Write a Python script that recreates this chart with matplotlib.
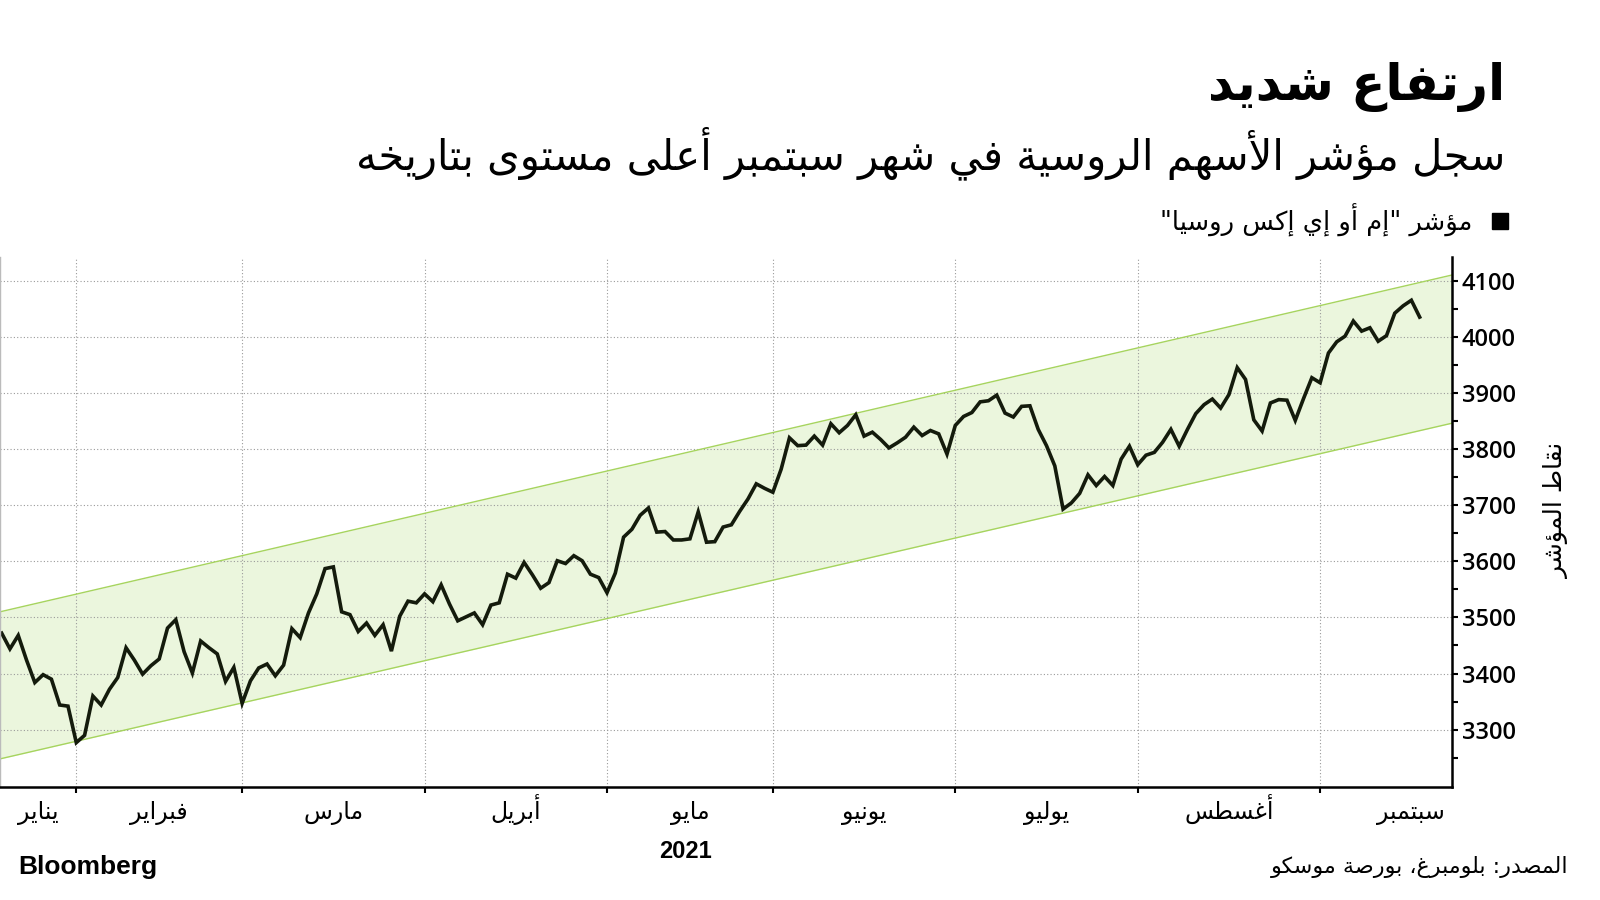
import matplotlib
matplotlib.use("Agg")
import matplotlib.pyplot as plt
from matplotlib.patches import Rectangle
import numpy as np

# MOEX Russia index, one value per trading day (mid Jan -> mid Sep 2021)
index_values = [
    3472, 3444, 3468, 3424, 3384, 3398, 3390, 3344, 3342,
    3277, 3290, 3360, 3344, 3372, 3393, 3446, 3424, 3399, 3414,
    3426, 3481, 3496, 3439, 3401, 3458, 3446, 3435, 3386, 3411,
    3347, 3387, 3410, 3417, 3396, 3415, 3480, 3464, 3508, 3542,
    3587, 3590, 3510, 3505, 3475, 3490, 3468, 3487, 3440, 3502,
    3529, 3526,
    3542, 3528, 3558, 3524, 3494, 3501, 3508, 3487, 3522, 3526,
    3577, 3570, 3598, 3576, 3552, 3562, 3601, 3596, 3610, 3601,
    3577, 3571,
    3544, 3579, 3643, 3657, 3682, 3695, 3652, 3653, 3638, 3638,
    3640, 3688, 3634, 3635, 3661, 3665, 3689, 3711, 3738, 3730,
    3723, 3764, 3820, 3806, 3807, 3823, 3807, 3845, 3829, 3842,
    3861, 3823, 3830, 3817, 3802, 3811, 3821, 3839, 3824, 3833,
    3827, 3791,
    3842, 3858, 3865, 3884, 3886, 3896, 3864, 3857, 3876, 3877,
    3835, 3806, 3770, 3693, 3704, 3721, 3754, 3735, 3751, 3735,
    3782, 3805,
    3772, 3789, 3794, 3812, 3835, 3805, 3835, 3863, 3879, 3889,
    3873, 3897, 3945, 3924, 3852, 3832, 3882, 3888, 3887, 3851,
    3890, 3927,
    3918, 3971, 3991, 4001, 4028, 4010, 4016, 3992, 4002, 4042,
    4055, 4065, 4035,
]

# trading-day index where each month starts (Feb .. Sep)
month_starts = [9, 29, 51, 73, 93, 115, 137, 159]
month_names = ["يناير", "فبراير", "مارس", "أبريل", "مايو",
               "يونيو", "يوليو", "أغسطس", "سبتمبر"]
sep_end = 181

# trend channel, value at left and right edge of the plot
channel_upper = [3510, 4110]
channel_lower = [3248, 3846]

y_ticks = [3300, 3400, 3500, 3600, 3700, 3800, 3900, 4000, 4100]

title = "ارتفاع شديد"
subtitle = "سجل مؤشر الأسهم الروسية في شهر سبتمبر أعلى مستوى بتاريخه"
legend_label = 'مؤشر "إم أو إي إكس روسيا"'
y_label = "نقاط المؤشر"
source = "المصدر: بلومبرغ، بورصة موسكو"

# matplotlib does not shape Arabic: choose the joined glyph forms by hand
# (first presentation form, number of forms); 4 = joins both sides
AR_FORMS = {
    'ء': (0xFE80, 1), 'آ': (0xFE81, 2), 'أ': (0xFE83, 2), 'ؤ': (0xFE85, 2),
    'إ': (0xFE87, 2), 'ئ': (0xFE89, 4), 'ا': (0xFE8D, 2), 'ب': (0xFE8F, 4),
    'ة': (0xFE93, 2), 'ت': (0xFE95, 4), 'ث': (0xFE99, 4), 'ج': (0xFE9D, 4),
    'ح': (0xFEA1, 4), 'خ': (0xFEA5, 4), 'د': (0xFEA9, 2), 'ذ': (0xFEAB, 2),
    'ر': (0xFEAD, 2), 'ز': (0xFEAF, 2), 'س': (0xFEB1, 4), 'ش': (0xFEB5, 4),
    'ص': (0xFEB9, 4), 'ض': (0xFEBD, 4), 'ط': (0xFEC1, 4), 'ظ': (0xFEC5, 4),
    'ع': (0xFEC9, 4), 'غ': (0xFECD, 4), 'ف': (0xFED1, 4), 'ق': (0xFED5, 4),
    'ك': (0xFED9, 4), 'ل': (0xFEDD, 4), 'م': (0xFEE1, 4), 'ن': (0xFEE5, 4),
    'ه': (0xFEE9, 4), 'و': (0xFEED, 2), 'ى': (0xFEEF, 2), 'ي': (0xFEF1, 4),
}
LAM_ALEF = {'آ': 0xFEF5, 'أ': 0xFEF7, 'إ': 0xFEF9, 'ا': 0xFEFB}


def shape(text):
    out = []
    i = 0
    while i < len(text):
        c = text[i]
        if c not in AR_FORMS:
            out.append(c)
            i += 1
            continue
        prev = text[i - 1] if i > 0 else ''
        joins_prev = prev in AR_FORMS and AR_FORMS[prev][1] == 4
        nxt = text[i + 1] if i + 1 < len(text) else ''
        if c == 'ل' and nxt in LAM_ALEF:
            out.append(chr(LAM_ALEF[nxt] + int(joins_prev)))
            i += 2
            continue
        base, n = AR_FORMS[c]
        joins_next = n == 4 and nxt in AR_FORMS and AR_FORMS[nxt][1] > 1
        if n == 1:
            form = 0
        elif joins_prev and joins_next:
            form = 3
        elif joins_prev:
            form = 1
        elif joins_next:
            form = 2
        else:
            form = 0
        out.append(chr(base + form))
        i += 1
    return ''.join(reversed(out))


AR_FONT = ['DejaVu Sans']
NUM_FONT = ['Open Sans', 'DejaVu Sans']

fig = plt.figure(figsize=(16, 9), dpi=100)
ax = fig.add_axes([0.0, 0.1256, 0.9075, 0.5888])

x = np.arange(len(index_values))
x_lo, x_hi = -0.2, 174.9

ax.fill_between([x_lo, x_hi], channel_lower, channel_upper,
                color='#ebf6dd', lw=0)
ax.plot([x_lo, x_hi], channel_upper, color='#a6d45e', lw=1.0)
ax.plot([x_lo, x_hi], channel_lower, color='#a6d45e', lw=1.0)
ax.plot(x, index_values, color='#141b0c', lw=2.6, solid_joinstyle='miter')

ax.set_xlim(x_lo, x_hi)
ax.set_ylim(3198, 4142)

# y axis on the right
ax.yaxis.tick_right()
ax.set_yticks(y_ticks)
ax.set_yticks(np.arange(3250, 4150, 100), minor=True)
ax.tick_params(axis='y', which='both', direction='out', length=4, width=1.5,
               pad=3, labelsize=17, colors='black')
for lab in ax.get_yticklabels():
    lab.set_family(NUM_FONT)
    lab.set_weight('semibold')

# x axis: ticks at month boundaries, names in the middle of each month
bounds = [x_lo] + month_starts + [sep_end]
centers = [(a + b) / 2 for a, b in zip(bounds[:-1], bounds[1:])]
ax.set_xticks(month_starts)
ax.set_xticklabels([])
ax.set_xticks(centers, minor=True)
ax.set_xticklabels([shape(m) for m in month_names], minor=True,
                   family=AR_FONT, fontsize=17)
ax.tick_params(axis='x', which='major', direction='out', length=4, width=1.5)
ax.tick_params(axis='x', which='minor', length=0, pad=23)
for lab in ax.get_xticklabels(minor=True):
    lab.set_verticalalignment('baseline')

ax.grid(True, which='major', color='#9a9a9a', lw=0.8, ls=(0, (1, 2)))

ax.spines['top'].set_visible(False)
ax.spines['left'].set_color('#bbbbbb')
ax.spines['left'].set_linewidth(1.0)
ax.spines['right'].set_linewidth(1.8)
ax.spines['bottom'].set_linewidth(1.8)

# texts around the chart
fig.text(1505 / 1600, 1 - 87 / 900, shape(title), ha='right', va='center',
         fontsize=36, fontweight='bold', family=AR_FONT)
fig.text(1505 / 1600, 1 - 153 / 900, shape(subtitle), ha='right', va='center',
         fontsize=30, family=AR_FONT)
fig.patches.append(Rectangle((1492 / 1600, 1 - 229 / 900), 16 / 1600, 16 / 900,
                             transform=fig.transFigure, color='black'))
fig.text(1472 / 1600, 1 - 220 / 900, shape(legend_label), ha='right',
         va='center', fontsize=18.5, family=AR_FONT)
fig.text(1556 / 1600, 1 - 510 / 900, shape(y_label), ha='center', va='center',
         rotation=90, fontsize=18, family=AR_FONT)
fig.text(686 / 1600, 1 - 852 / 900, "2021", ha='center', va='center',
         fontsize=17, fontweight='bold', family=['Liberation Sans'])
fig.text(18 / 1600, 1 - 867 / 900, "Bloomberg", ha='left', va='center',
         fontsize=19, fontweight='bold', family=['Liberation Sans'])
fig.text(1569 / 1600, 1 - 867 / 900, shape(source), ha='right', va='center',
         fontsize=16, family=AR_FONT)

fig.savefig('out.png', dpi=100, facecolor='white')
